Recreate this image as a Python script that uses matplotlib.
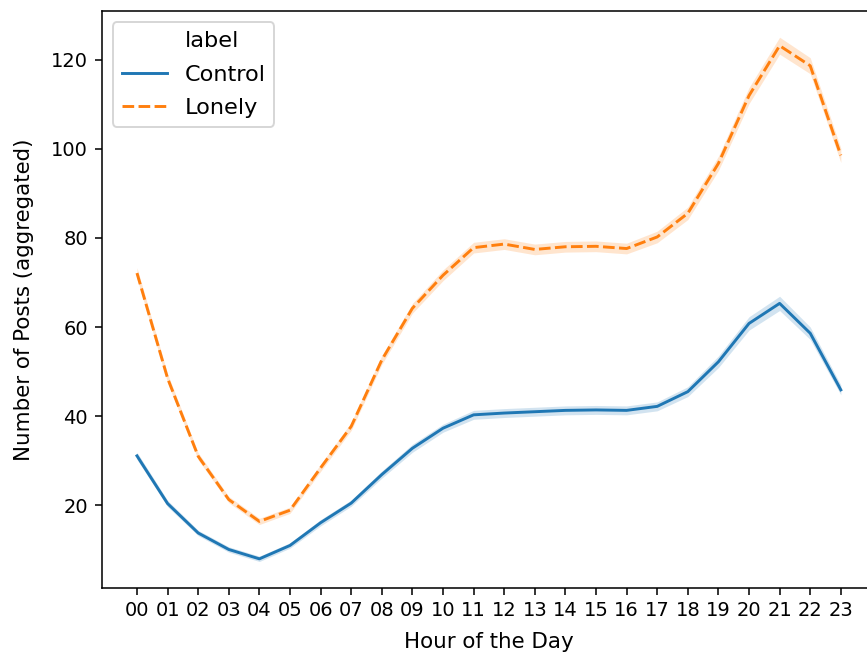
import numpy as np
import matplotlib
matplotlib.use("Agg")
import matplotlib.pyplot as plt
from matplotlib.lines import Line2D

# hourly mean number of posts
hours = [f"{h:02d}" for h in range(24)]
control = [31.1, 20.4, 13.8, 10.1, 8.0, 11.0, 16.1, 20.5, 26.9, 32.8, 37.3, 40.3,
           40.7, 41.0, 41.3, 41.4, 41.3, 42.2, 45.5, 52.2, 60.8, 65.3, 58.6, 45.9]
lonely = [72.1, 48.5, 31.0, 21.3, 16.4, 18.9, 28.4, 37.7, 52.6, 64.2, 71.6, 77.8,
          78.6, 77.4, 78.0, 78.1, 77.6, 80.2, 85.5, 96.7, 111.9, 123.1, 118.6, 98.5]
# approximate half width of the confidence bands
control_ci = [0.8, 0.7, 0.6, 0.6, 0.6, 0.6, 0.7, 0.7, 0.8, 0.9, 0.9, 1.0,
              1.0, 1.0, 1.0, 1.0, 1.0, 1.0, 1.1, 1.3, 1.5, 1.6, 1.4, 1.1]
lonely_ci = [1.2, 1.0, 0.8, 0.7, 0.7, 0.7, 0.8, 0.9, 1.0, 1.1, 1.2, 1.2,
             1.2, 1.2, 1.2, 1.2, 1.2, 1.3, 1.4, 1.6, 1.8, 1.9, 1.8, 1.6]

x = np.arange(len(hours))
control, lonely = np.array(control), np.array(lonely)
control_ci, lonely_ci = np.array(control_ci), np.array(lonely_ci)

DPI = 140
fig = plt.figure(figsize=(867 / DPI, 655 / DPI), dpi=DPI)
# the reference is cropped on the right, so the axes run past the figure edge
ax = fig.add_axes([0.1174, 0.1027, 0.893, 0.8805])

ax.fill_between(x, control - control_ci, control + control_ci, color="#1f77b4", alpha=0.2, linewidth=0)
ax.fill_between(x, lonely - lonely_ci, lonely + lonely_ci, color="#ff7f0e", alpha=0.2, linewidth=0)
l1, = ax.plot(x, control, color="#1f77b4", lw=1.5, label="Control")
l2, = ax.plot(x, lonely, color="#ff7f0e", lw=1.5, dashes=(4, 1.5), label="Lonely")

ax.set_xticks(x)
ax.set_xticklabels(hours)
ax.set_xlabel("Hour of the Day", fontsize=11, labelpad=6)
ax.set_ylabel("Number of Posts (aggregated)", fontsize=11, labelpad=9)

blank = Line2D([], [], color="none")
ax.legend([blank, l1, l2], ["label", "Control", "Lonely"], loc="upper left",
          fontsize=11.5, labelspacing=0.6)

fig.savefig("out.png", dpi=DPI)
